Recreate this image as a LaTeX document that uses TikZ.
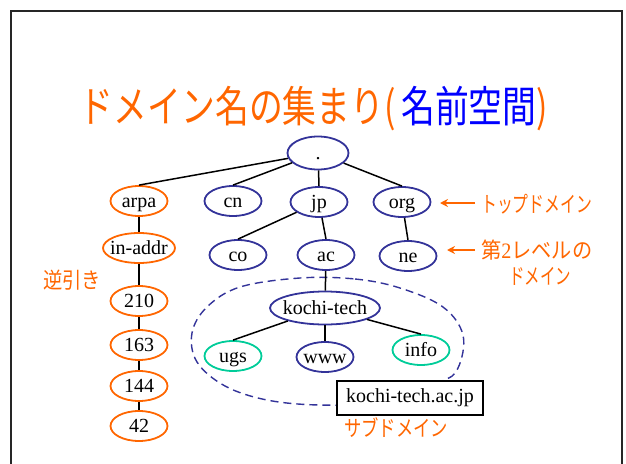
\documentclass[tikz,border=0pt]{standalone}
\usepackage{fontspec}
\usepackage{graphicx}
\setmainfont{Liberation Serif}
\newfontfamily\cjk{Noto Sans CJK JP}
\usetikzlibrary{arrows.meta,shapes.geometric}
\definecolor{jorange}{HTML}{FF6600}
\definecolor{jnavy}{HTML}{333399}
\definecolor{jteal}{HTML}{00CC99}
\definecolor{jblue}{HTML}{0000FF}
\newcommand{\jtxt}[2]{\resizebox{#1}{\height}{\cjk #2}}
\begin{document}
\begin{tikzpicture}[x=1pt,y=-1pt,
  dn/.style={ellipse, draw=jnavy, line width=1.8pt, inner xsep=-3.5pt, inner ysep=0pt,
    minimum width=57pt, minimum height=30pt, text height=14pt, text depth=2pt,
    font=\fontsize{20}{20}\selectfont},
  on/.style={dn, draw=jorange},
  tn/.style={dn, draw=jteal},
  edge/.style={line width=1.5pt, black},
  lab/.style={text=jorange, inner sep=1pt, font=\fontsize{22}{22}\selectfont},
  ar/.style={draw=jorange, line width=1.8pt, -{Stealth[length=8pt,width=8pt]}},
  subd/.style={draw=jnavy, line width=1.4pt, dash pattern=on 8pt off 5pt}
]
\useasboundingbox (0,0) rectangle (626,463);
\clip (0,0) rectangle (626,463);
\draw[line width=1.6pt, black!85] (11,11) rectangle (622,480);

% title
\node (title) at (314,109) {\resizebox{468pt}{\height}{\fontsize{43}{43}\cjk\color{jorange}ドメイン名の集まり(\,\color{jblue}名前空間\color{jorange})}};

% subdomain dashed region
\draw[subd] plot[smooth cycle, tension=0.6] coordinates {
  (300,278) (355,279) (400,288) (443,307) (463,335) (458,368) (440,382)
  (380,402) (320,405) (267,400) (225,386) (197,362) (192,333) (207,307) (240,287)};

% nodes
\node[dn, minimum width=61pt, minimum height=33pt] (root) at (318,153) {.};
\node[on] (arpa) at (139,201) {arpa};
\node[dn] (cn) at (233,201) {cn};
\node[dn] (jp) at (319,202) {jp};
\node[dn] (org) at (402,202) {org};
\node[on, minimum width=72pt] (inaddr) at (139,248) {in-addr};
\node[dn] (co) at (238,255) {co};
\node[dn] (ac) at (326,255) {ac};
\node[dn] (ne) at (408,256) {ne};
\node[on] (n210) at (139,301) {210};
\node[on] (n163) at (139,345) {163};
\node[on] (n144) at (139,386) {144};
\node[on] (n42) at (139,426) {42};
\node[dn, minimum width=110pt, minimum height=33pt] (kochi) at (325,308) {kochi-tech};
\node[tn] (ugs) at (233,356) {ugs};
\node[dn] (www) at (325,357) {www};
\node[tn] (info) at (421,350) {info};
\node[draw=black, line width=1.6pt, fill=white, minimum width=146pt, minimum height=34pt,
  font=\fontsize{20}{20}\selectfont] (box) at (410,398) {kochi-tech.ac.jp};

% edges
\draw[edge] (root) -- (arpa.north);
\draw[edge] (root) -- (cn.north);
\draw[edge] (root) -- (jp.north);
\draw[edge] (root) -- (org.north);
\draw[edge] (arpa) -- (inaddr);
\draw[edge] (inaddr) -- (n210);
\draw[edge] (n210) -- (n163);
\draw[edge] (n163) -- (n144);
\draw[edge] (n144) -- (n42);
\draw[edge] (jp) -- (co.north);
\draw[edge] (jp) -- (ac.north);
\draw[edge] (org) -- (ne.north);
\draw[edge] (ac) -- (kochi);
\draw[edge] (kochi) -- (ugs.north);
\draw[edge] (kochi) -- (www.north);
\draw[edge] (kochi) -- (info.north);

% labels
\node[lab, anchor=west] (top) at (480,204) {\jtxt{111pt}{トップドメイン}};
\node[lab, anchor=west] (sec) at (480,250) {\jtxt{111pt}{第{\rmfamily 2}レベルの}};
\node[lab] (sec2) at (540,276) {\jtxt{62pt}{ドメイン}};
\node[lab] (rev) at (72,280) {\jtxt{58pt}{逆引き}};
\node[lab] (sub) at (396,428) {\jtxt{104pt}{サブドメイン}};
\coordinate (s1) at (475,203);
\coordinate (a1) at (440,203);
\coordinate (s2) at (475,250);
\coordinate (a2) at (447,250);
\draw[ar] (s1) -- (a1);
\draw[ar] (s2) -- (a2);
\end{tikzpicture}
\end{document}
